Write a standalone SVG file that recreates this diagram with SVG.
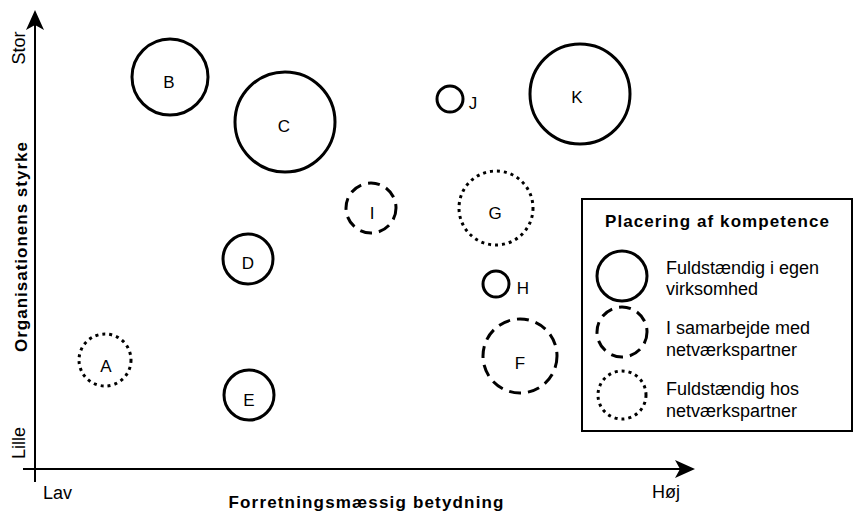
<svg xmlns="http://www.w3.org/2000/svg" width="854" height="513" viewBox="0 0 854 513">
  <defs>
    <style>
      text { font-family: "Liberation Sans", Arial, sans-serif; fill: #000; }
      .lbl { font-size: 17px; text-anchor: middle; }
      .axl { font-size: 18px; }
      .bold { font-weight: bold; font-size: 17px; }
      .leg { font-size: 18px; }
      .solid { fill: none; stroke: #000; stroke-width: 3; }
      .dash { fill: none; stroke: #000; stroke-width: 3; stroke-dasharray: 12 7; }
      .dot { fill: none; stroke: #000; stroke-width: 3; stroke-dasharray: 3 4; }
      .axis { stroke: #000; stroke-width: 2; fill: none; }
    </style>
    <marker id="arrow" viewBox="0 0 20 20" refX="18" refY="10" markerWidth="20" markerHeight="20" markerUnits="userSpaceOnUse" orient="auto">
      <path d="M0,1 L20,10 L0,19 L5,10 Z" fill="#000"/>
    </marker>
  </defs>

  <!-- axes -->
  <g id="connectors">
    <line class="axis" x1="35" y1="482" x2="35" y2="12" marker-end="url(#arrow)"/>
    <line class="axis" x1="23" y1="469" x2="693" y2="469" marker-end="url(#arrow)"/>
  </g>

  <!-- axis labels -->
  <g id="axis-labels">
    <text class="axl" transform="translate(25,48) rotate(-90)" text-anchor="middle">Stor</text>
    <text class="axl" transform="translate(25,443) rotate(-90)" text-anchor="middle">Lille</text>
    <text class="bold" transform="translate(27,247) rotate(-90)" text-anchor="middle" textLength="210" lengthAdjust="spacing">Organisationens styrke</text>
    <text class="axl" x="43" y="499">Lav</text>
    <text class="axl" x="652" y="498">Høj</text>
    <text class="bold" x="366" y="508" text-anchor="middle" textLength="275" lengthAdjust="spacing">Forretningsmæssig betydning</text>
  </g>

  <!-- bubbles -->
  <g id="node-A"><circle class="dot" cx="105" cy="360" r="26"/><text class="lbl" x="106" y="372">A</text></g>
  <g id="node-B"><circle class="solid" cx="170" cy="77" r="38"/><text class="lbl" x="169" y="88">B</text></g>
  <g id="node-C"><circle class="solid" cx="285" cy="122" r="50"/><text class="lbl" x="284" y="132">C</text></g>
  <g id="node-D"><circle class="solid" cx="248" cy="259" r="25"/><text class="lbl" x="248" y="269">D</text></g>
  <g id="node-E"><circle class="solid" cx="249" cy="395" r="25"/><text class="lbl" x="249" y="406">E</text></g>
  <g id="node-F"><circle class="dash" cx="520" cy="356" r="37"/><text class="lbl" x="520" y="369">F</text></g>
  <g id="node-G"><circle class="dot" cx="496" cy="208" r="37"/><text class="lbl" x="495" y="219">G</text></g>
  <g id="node-H"><circle class="solid" cx="496" cy="284" r="13"/><text class="lbl" x="523" y="294">H</text></g>
  <g id="node-I"><circle class="dash" cx="371" cy="208" r="25"/><text class="lbl" x="372" y="219">I</text></g>
  <g id="node-J"><circle class="solid" cx="450" cy="99" r="13"/><text class="lbl" x="473" y="109">J</text></g>
  <g id="node-K"><circle class="solid" cx="580" cy="94" r="50"/><text class="lbl" x="577" y="103">K</text></g>

  <!-- legend -->
  <g id="legend">
    <rect x="582" y="199" width="270" height="232" fill="#fff" stroke="#000" stroke-width="2"/>
    <text class="bold" x="605" y="227" textLength="224" lengthAdjust="spacing">Placering af kompetence</text>
    <circle class="solid" cx="622" cy="276" r="25"/>
    <text class="leg" x="666" y="274">Fuldstændig i egen</text>
    <text class="leg" x="666" y="295">virksomhed</text>
    <circle class="dash" cx="622" cy="332" r="25"/>
    <text class="leg" x="666" y="334">I samarbejde med</text>
    <text class="leg" x="666" y="356">netværkspartner</text>
    <circle class="dot" cx="622" cy="395" r="24"/>
    <text class="leg" x="666" y="395">Fuldstændig hos</text>
    <text class="leg" x="666" y="417">netværkspartner</text>
  </g>
</svg>
